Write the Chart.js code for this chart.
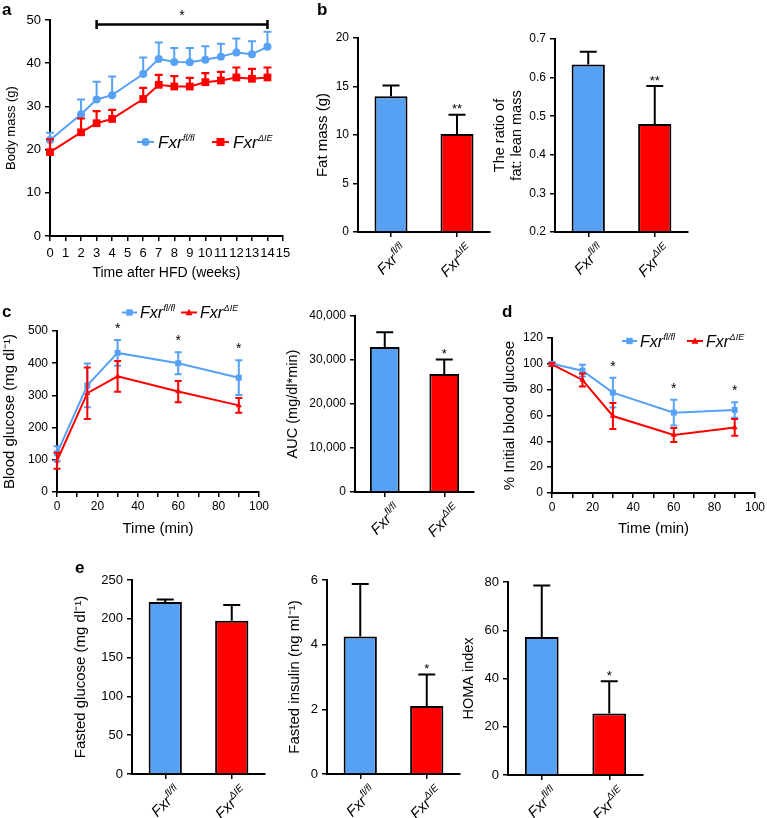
<!DOCTYPE html>
<html><head><meta charset="utf-8">
<script src="https://cdn.jsdelivr.net/npm/chart.js@4.4.1/dist/chart.umd.min.js"></script>
<style>
html,body{margin:0;padding:0;background:#fff;}
body{width:767px;height:818px;position:relative;overflow:hidden;}
canvas{position:absolute;}
</style>
</head><body>
<script>
// ---------------- DATA ----------------
const weeks = [0,2,3,4,6,7,8,9,10,11,12,13,14];
const bodyMassFl = [22.2,28.2,31.6,32.6,37.5,41.0,40.3,40.2,40.8,41.5,42.5,42.1,43.8];
const bodyMassFlErr = [1.7,3.4,4.1,4.3,3.8,3.8,3.2,3.3,3.1,3.0,3.2,3.0,3.5];
const bodyMassIE = [19.4,24.0,26.1,27.1,31.7,35.0,34.6,34.6,35.6,36.0,36.7,36.4,36.7];
const bodyMassIEErr = [3.0,3.2,2.8,2.1,2.6,2.3,2.4,2.0,2.1,2.0,2.3,2.3,2.3];
const sigSpanA = [3, 14];
const aXTicks = [0,1,2,3,4,5,6,7,8,9,10,11,12,13,14,15];
const aYTicks = [0,10,20,30,40,50];

const genotypes = ['Fxr fl/fl', 'Fxr \u0394IE'];
const genotypeSup = ['fl/fl', '\u0394IE'];

const fatMass = [14.0, 10.1];
const fatMassErr = [1.1, 2.0];
const fatMassTicks = [0,5,10,15,20];
const fatLeanRatio = [0.634, 0.480];
const fatLeanRatioErr = [0.033, 0.098];
const ratioTicks = [0.2,0.3,0.4,0.5,0.6,0.7];

const gttTime = [0,15,30,60,90];
const gttFl = [120,331,432,400,355];
const gttFlErr = [22,68,40,34,54];
const gttIE = [97,307,359,312,269];
const gttIEErr = [25,80,48,33,23];
const gttSig = [30,60,90];
const timeTicks = [0,10,20,30,40,50,60,70,80,90,100];
const gttYTicks = [0,100,200,300,400,500];

const aucGtt = [32980, 26800];
const aucGttErr = [3300, 3300];
const aucTicks = [0,10000,20000,30000,40000];

const ittTime = [0,15,30,60,90];
const ittFl = [100,94.7,77.7,62.2,64.3];
const ittFlErr = [1.2,4.5,11.5,10,6];
const ittIE = [99.5,87.5,59.6,44.9,50.8];
const ittIEErr = [1.2,5,10,5.5,6.5];
const ittSig = [30,60,90];
const ittYTicks = [0,20,40,60,80,100,120];

const fastedGlucose = [221.6,197.6];
const fastedGlucoseErr = [3.4,20.2];
const glucoseTicks = [0,50,100,150,200,250];
const fastedInsulin = [4.25,2.10];
const fastedInsulinErr = [1.63,0.98];
const insulinTicks = [0,2,4,6];
const homaIndex = [57.2,25.5];
const homaIndexErr = [21.4,13.4];
const homaTicks = [0,20,40,60,80];

// ---------------- STYLE ----------------
const FONT = '"Liberation Sans", Arial, Helvetica, sans-serif';
const BLUE = '#57a1f5';
const RED = '#ff0000';
Chart.defaults.font.family = FONT;
Chart.defaults.color = '#000';

function makeCanvas(r){
  const c = document.createElement('canvas');
  c.width = r.w; c.height = r.h;
  c.style.left = r.x + 'px'; c.style.top = r.y + 'px';
  c.style.width = r.w + 'px'; c.style.height = r.h + 'px';
  document.body.appendChild(c);
  return c;
}

function yAxis(ticksArr, fmt, tickSize, title, tSize, tCenter, rect){
  const lh = 1.2 * tSize;
  return {
    type:'linear', min: ticksArr[0], max: ticksArr[ticksArr.length-1],
    afterBuildTicks: s => { s.ticks = ticksArr.map(v => ({value:v})); },
    ticks:{font:{size:tickSize}, color:'#000', padding:4, callback: fmt},
    grid:{drawOnChartArea:false, drawTicks:true, tickLength:5, color:'#000', lineWidth:1.5},
    border:{display:true, color:'#000', width:2},
    title:{display:true, text:title, color:'#000', font:{size:tSize, lineHeight:1.2},
           padding:{top: tCenter - rect.x - lh/2, bottom:0}}
  };
}
function xLinear(ticksArr, labelEvery, tickSize, tickPad, title, tSize, tCenter, rect){
  const lh = 1.2 * tSize;
  return {
    type:'linear', min: ticksArr[0], max: ticksArr[ticksArr.length-1],
    afterBuildTicks: s => { s.ticks = ticksArr.map(v => ({value:v})); },
    ticks:{font:{size:tickSize}, color:'#000', padding:tickPad, autoSkip:false, maxRotation:0, minRotation:0,
           callback: v => (v % labelEvery === 0 ? String(v) : '')},
    grid:{drawOnChartArea:false, drawTicks:true, tickLength:5, color:'#000', lineWidth:1.5},
    border:{display:true, color:'#000', width:2},
    title:{display:true, text:title, color:'#000', font:{size:tSize, lineHeight:1.2},
           padding:{top:0, bottom: rect.y + rect.h - tCenter - lh/2}}
  };
}
function xCategory(){
  return {
    type:'category', offset:true,
    ticks:{callback: () => '', font:{size:10}},
    grid:{offset:false, drawOnChartArea:false, drawTicks:true, tickLength:5, color:'#000', lineWidth:1.5},
    border:{display:true, color:'#000', width:2}
  };
}

function build(rect, area, cfg){
  const cv = makeCanvas(rect);
  const xH = rect.y + rect.h - area.b;
  const yW = area.l - rect.x;
  cfg.options.scales.x.afterFit = s => { s.height = xH; };
  cfg.options.scales.y.afterFit = s => { s.width = yW; };
  cfg.options.layout = {padding:{top: area.t - rect.y, right: rect.x + rect.w - area.r, left:0, bottom:0}};
  cfg.options.responsive = false;
  cfg.options.maintainAspectRatio = false;
  cfg.options.animation = false;
  cfg.options.devicePixelRatio = 1;
  cfg.options.plugins = {legend:{display:false}, tooltip:{enabled:false}};
  return new Chart(cv.getContext('2d'), cfg);
}

// ------------- drawing helpers -------------
function drawErrors(chart, idx, color, lw, cap, both){
  const ds = chart.data.datasets[idx];
  const meta = chart.getDatasetMeta(idx);
  const ys = chart.scales.y;
  const ctx = chart.ctx;
  ctx.save();
  ctx.strokeStyle = color; ctx.lineWidth = lw; ctx.lineCap = 'butt';
  meta.data.forEach((el, i) => {
    const raw = ds.data[i];
    const v = (typeof raw === 'object') ? raw.y : raw;
    const e = ds.errorBars[i];
    const yt = ys.getPixelForValue(v + e);
    const yb = ys.getPixelForValue(both ? v - e : v);
    ctx.beginPath();
    ctx.moveTo(el.x, yt); ctx.lineTo(el.x, yb);
    ctx.moveTo(el.x - cap/2, yt); ctx.lineTo(el.x + cap/2, yt);
    if (both) { ctx.moveTo(el.x - cap/2, yb); ctx.lineTo(el.x + cap/2, yb); }
    ctx.stroke();
  });
  ctx.restore();
}
function drawStar(ctx, x, cy, text, size){
  ctx.save();
  ctx.font = size + 'px ' + FONT;
  ctx.fillStyle = '#000'; ctx.textAlign = 'center'; ctx.textBaseline = 'alphabetic';
  ctx.fillText(text, x, cy + 0.57*size);
  ctx.restore();
}
function drawLetter(ctx, x, y, t){
  ctx.save();
  ctx.font = 'bold 17px ' + FONT;
  ctx.fillStyle = '#000'; ctx.textAlign = 'left'; ctx.textBaseline = 'alphabetic';
  ctx.fillText(t, x, y);
  ctx.restore();
}
function fxrWidths(ctx, size, supSize, sup){
  ctx.save();
  ctx.font = 'italic ' + size + 'px ' + FONT; const w1 = ctx.measureText('Fxr').width;
  ctx.font = 'italic ' + supSize + 'px ' + FONT; const w2 = ctx.measureText(sup).width;
  ctx.restore();
  return [w1, w2];
}
function drawFxr(ctx, x, y, sup, size, supSize){
  const [w1] = fxrWidths(ctx, size, supSize, sup);
  ctx.save();
  ctx.fillStyle = '#000'; ctx.textAlign = 'left'; ctx.textBaseline = 'alphabetic';
  ctx.font = 'italic ' + size + 'px ' + FONT;
  ctx.fillText('Fxr', x, y);
  ctx.font = 'italic ' + supSize + 'px ' + FONT;
  ctx.fillText(sup, x + w1 + 0.5, y - size*0.42);
  ctx.restore();
}
function drawRotFxr(ctx, x, y, sup, size, supSize){
  const [w1, w2] = fxrWidths(ctx, size, supSize, sup);
  ctx.save();
  ctx.translate(x, y); ctx.rotate(-Math.PI/4);
  drawFxr(ctx, -(w1 + 0.5 + w2), size*0.35, sup, size, supSize);
  ctx.restore();
}
function marker(ctx, style, x, y, s, color){
  ctx.save(); ctx.fillStyle = color; ctx.beginPath();
  if (style === 'circle') { ctx.arc(x, y, s, 0, Math.PI*2); }
  else if (style === 'rect') { ctx.rect(x - s, y - s, 2*s, 2*s); }
  else { ctx.moveTo(x, y - s*1.1); ctx.lineTo(x + s, y + s*0.75); ctx.lineTo(x - s, y + s*0.75); ctx.closePath(); }
  ctx.fill(); ctx.restore();
}
function legendItem(ctx, x1, x2, y, color, style, ms, tx, ty, sup, size, supSize){
  ctx.save(); ctx.strokeStyle = color; ctx.lineWidth = 2;
  ctx.beginPath(); ctx.moveTo(x1, y); ctx.lineTo(x2, y); ctx.stroke(); ctx.restore();
  marker(ctx, style, (x1+x2)/2, y, ms, color);
  drawFxr(ctx, tx, ty, sup, size, supSize);
}

// ------------- Panel a -------------
(function(){
  const rect = {x:0, y:0, w:300, h:288};
  const area = {l:50, t:20, r:283, b:236};
  build(rect, area, {
    type:'line',
    data:{datasets:[
      {data: weeks.map((w,i)=>({x:w, y:bodyMassFl[i]})), errorBars: bodyMassFlErr,
       borderColor:BLUE, backgroundColor:BLUE, borderWidth:2, pointStyle:'circle', pointRadius:4,
       pointBorderWidth:0, tension:0, clip:false, order:1},
      {data: weeks.map((w,i)=>({x:w, y:bodyMassIE[i]})), errorBars: bodyMassIEErr,
       borderColor:RED, backgroundColor:RED, borderWidth:2, pointStyle:'rect', pointRadius:5.5,
       pointBorderWidth:0, tension:0, clip:false, order:0}
    ]},
    options:{scales:{
      x: xLinear(aXTicks, 1, 13, 5, 'Time after HFD (weeks)', 14, 273.5, rect),
      y: yAxis(aYTicks, v => String(v), 13, 'Body mass (g)', 13, 11, rect)
    }},
    plugins:[{id:'pa',
      afterDatasetsDraw(chart){
        drawErrors(chart, 0, BLUE, 2, 8, false);
        drawErrors(chart, 1, RED, 2.2, 8, false);
      },
      afterDraw(chart){
        const ctx = chart.ctx;
        ctx.save(); ctx.translate(-rect.x, -rect.y);
        const x1 = chart.scales.x.getPixelForValue(sigSpanA[0]) + rect.x;
        const x2 = chart.scales.x.getPixelForValue(sigSpanA[1]) + rect.x;
        ctx.strokeStyle = '#000'; ctx.lineWidth = 2.5;
        ctx.beginPath();
        ctx.moveTo(x1, 24.5); ctx.lineTo(x2, 24.5);
        ctx.moveTo(x1, 20); ctx.lineTo(x1, 29);
        ctx.moveTo(x2, 20); ctx.lineTo(x2, 29);
        ctx.stroke();
        drawStar(ctx, (x1+x2)/2, 12, '*', 14);
        legendItem(ctx, 137, 154, 142, BLUE, 'circle', 4, 158, 148, genotypeSup[0], 17, 9);
        legendItem(ctx, 212, 229, 142, RED, 'rect', 4, 233, 148, genotypeSup[1], 17, 9);
        drawLetter(ctx, 2, 15, 'a');
        ctx.restore();
      }}]
  });
})();

// ------------- Bar chart factory -------------
function barPanel(rect, area, vals, errs, ticksArr, fmt, tickSize, title, tSize, tCenter, sig, letter){
  build(rect, area, {
    type:'bar',
    data:{labels: genotypes, datasets:[{
      data: vals, errorBars: errs, base: ticksArr[0],
      backgroundColor:[BLUE, RED], borderColor:'#000', borderWidth:2,
      barPercentage:0.5, categoryPercentage:1
    }]},
    options:{scales:{ x: xCategory(), y: yAxis(ticksArr, fmt, tickSize, title, tSize, tCenter, rect) }},
    plugins:[{id:'bp',
      afterDatasetsDraw(chart){ drawErrors(chart, 0, '#000', 2, 17, false); },
      afterDraw(chart){
        const ctx = chart.ctx;
        const meta = chart.getDatasetMeta(0);
        const ys = chart.scales.y;
        meta.data.forEach((el, i) => {
          drawRotFxr(ctx, el.x + 13, chart.chartArea.bottom + 15, genotypeSup[i], 15, 10);
          if (sig && sig[i]) {
            drawStar(ctx, el.x, ys.getPixelForValue(vals[i] + errs[i]) - 9, sig[i], 13);
          }
        });
        if (letter) {
          ctx.save(); ctx.translate(-rect.x, -rect.y);
          drawLetter(ctx, letter[0], letter[1], letter[2]);
          ctx.restore();
        }
      }}]
  });
}

// ------------- Panel b -------------
barPanel({x:300, y:0, w:195, h:300}, {l:358, t:38, r:490, b:232},
  fatMass, fatMassErr, fatMassTicks, v => String(v), 12, 'Fat mass (g)', 15, 323.3, ['', '**'], [317, 15, 'b']);
barPanel({x:490, y:0, w:277, h:300}, {l:555, t:39, r:688, b:232},
  fatLeanRatio, fatLeanRatioErr, ratioTicks, v => v.toFixed(1), 12, ['The ratio of', 'fat: lean mass'], 14.5, 500, ['', '**'], null);

// ------------- Line chart factory (c, d) -------------
function linePanel(rect, area, times, fl, flErr, ie, ieErr, yTicks, ytitle, ytCenter, xtCenter, sigTimes, legendPos, letter){
  build(rect, area, {
    type:'line',
    data:{datasets:[
      {data: times.map((t,i)=>({x:t, y:fl[i]})), errorBars: flErr,
       borderColor:BLUE, backgroundColor:BLUE, borderWidth:2, pointStyle:'rect', pointRadius:4.2,
       pointBorderWidth:0, tension:0, clip:false, order:1},
      {data: times.map((t,i)=>({x:t, y:ie[i]})), errorBars: ieErr,
       borderColor:RED, backgroundColor:RED, borderWidth:2, pointStyle:'triangle', pointRadius:3.5,
       pointBorderWidth:0, tension:0, clip:false, order:0}
    ]},
    options:{scales:{
      x: xLinear(timeTicks, 20, 12, 2, 'Time (min)', 15, xtCenter, rect),
      y: yAxis(yTicks, v => String(v), 12, ytitle, 15, ytCenter, rect)
    }},
    plugins:[{id:'lp',
      afterDatasetsDraw(chart){
        drawErrors(chart, 0, BLUE, 2, 7, true);
        drawErrors(chart, 1, RED, 2, 7, true);
      },
      afterDraw(chart){
        const ctx = chart.ctx;
        const xs = chart.scales.x, ys = chart.scales.y;
        sigTimes.forEach(t => {
          const i = times.indexOf(t);
          const top = Math.max(fl[i] + flErr[i], ie[i] + ieErr[i]);
          drawStar(ctx, xs.getPixelForValue(t), ys.getPixelForValue(top) - 15, '*', 14);
        });
        ctx.save(); ctx.translate(-rect.x, -rect.y);
        const L = legendPos;
        legendItem(ctx, L[0], L[0]+15, L[1], BLUE, 'rect', 3.2, L[0]+18, L[1]+5.5, genotypeSup[0], 16, 9);
        legendItem(ctx, L[2], L[2]+16, L[1], RED, 'tri', 3.5, L[2]+19, L[1]+5.5, genotypeSup[1], 16, 9);
        drawLetter(ctx, letter[0], letter[1], letter[2]);
        ctx.restore();
      }}]
  });
}

// ------------- Panel c -------------
linePanel({x:0, y:295, w:272, h:250}, {l:57, t:331, r:259, b:492},
  gttTime, gttFl, gttFlErr, gttIE, gttIEErr, gttYTicks, 'Blood glucose (mg dl\u207B\u00B9)', 10, 529,
  gttSig, [122, 312.5, 181], [2, 317, 'c']);
barPanel({x:272, y:295, w:218, h:260}, {l:355, t:316, r:474, b:492},
  aucGtt, aucGttErr, aucTicks, v => v.toLocaleString('en-US'), 12, 'AUC (mg/dl*min)', 14.5, 293, ['', '*'], null);

// ------------- Panel d -------------
linePanel({x:490, y:295, w:277, h:250}, {l:552, t:338, r:757, b:493},
  ittTime, ittFl, ittFlErr, ittIE, ittIEErr, ittYTicks, '% Initial blood glucose', 510, 528.5,
  ittSig, [622, 341, 687], [502, 317, 'd']);

// ------------- Panel e -------------
barPanel({x:0, y:545, w:280, h:273}, {l:132, t:580, r:265, b:774},
  fastedGlucose, fastedGlucoseErr, glucoseTicks, v => String(v), 13, 'Fasted glucose (mg dl\u207B\u00B9)', 15, 81, null, [75, 573, 'e']);
barPanel({x:280, y:545, w:185, h:273}, {l:327, t:580, r:460, b:774},
  fastedInsulin, fastedInsulinErr, insulinTicks, v => String(v), 13, 'Fasted insulin (ng ml\u207B\u00B9)', 15, 295, ['', '*'], null);
barPanel({x:455, y:545, w:200, h:273}, {l:508, t:582, r:643, b:775},
  homaIndex, homaIndexErr, homaTicks, v => String(v), 13, 'HOMA index', 14.5, 468.7, ['', '*'], null);
</script>
</body></html>
